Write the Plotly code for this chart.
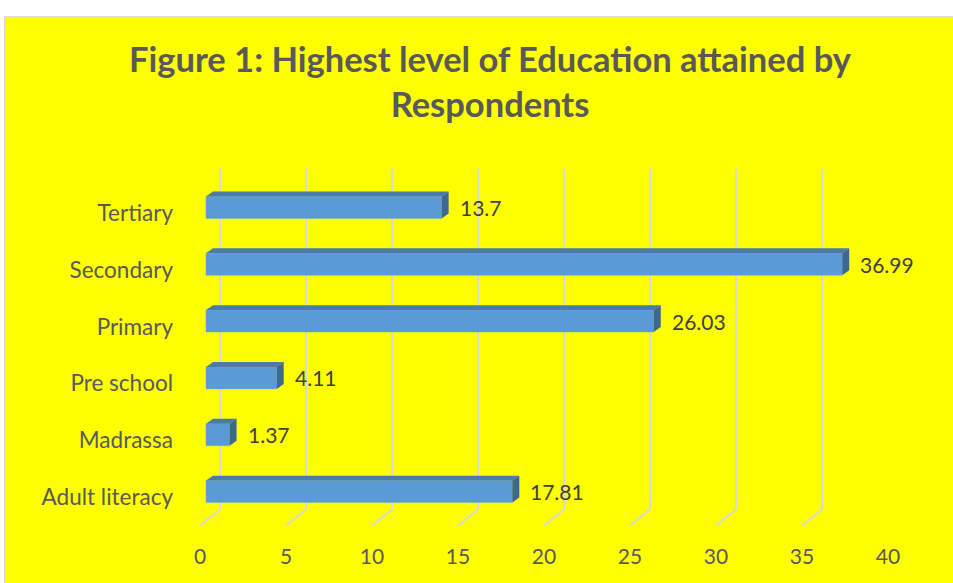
import plotly.graph_objects as go

# ---- data ----
categories = ["Adult literacy", "Madrassa", "Pre school", "Primary", "Secondary", "Tertiary"]
values = [17.81, 1.37, 4.11, 26.03, 36.99, 13.7]
labels = ["17.81", "1.37", "4.11", "26.03", "36.99", "13.7"]
x_ticks = [0, 5, 10, 15, 20, 25, 30, 35, 40]
title_text = "Figure 1: Highest level of Education attained by<br>Respondents"

# ---- style ----
W, H = 953, 583
ML, MR, MT, MB = 200, 65, 178.5, 62.5
PX_PER_UNIT = (W - ML - MR) / 40.0
CAT_PX = (H - MT - MB) / len(categories)
FONT = "Lato"
GREY = "#595959"
FRONT, TOP, SIDE = "#5B9BD5", "#4A7BAB", "#3D6893"
BAR_W = 0.386
DX = 7 / PX_PER_UNIT          # depth offset (x units)
DY = 5 / CAT_PX               # depth offset (category units)
BAR_SHIFT = 6 / PX_PER_UNIT   # bars sit slightly behind the front floor
BACK_SHIFT = 20 / PX_PER_UNIT # back wall offset
ypos = list(range(len(categories)))

fig = go.Figure()

# front faces
fig.add_trace(go.Bar(
    x=values, y=ypos, orientation="h", width=BAR_W,
    marker=dict(color=FRONT, line=dict(color="#6FA8DC", width=0.5)),
    xaxis="x2", yaxis="y", hoverinfo="x+y", showlegend=False,
))

# top and side faces
tx, ty, sx, sy = [], [], [], []
for v, y in zip(values, ypos):
    t = y + BAR_W / 2
    b = y - BAR_W / 2
    tx += [0, v, v + DX, DX, 0, None]
    ty += [t, t, t + DY, t + DY, t, None]
    sx += [v, v + DX, v + DX, v, v, None]
    sy += [b, b + DY, t + DY, t, b, None]
fig.add_trace(go.Scatter(x=tx, y=ty, fill="toself", fillcolor=TOP, mode="lines",
                         line=dict(width=0, color=TOP), xaxis="x2", yaxis="y",
                         hoverinfo="skip", showlegend=False))
fig.add_trace(go.Scatter(x=sx, y=sy, fill="toself", fillcolor=SIDE, mode="lines",
                         line=dict(width=0, color=SIDE), xaxis="x2", yaxis="y",
                         hoverinfo="skip", showlegend=False))

# data labels
for v, y, lab in zip(values, ypos, labels):
    fig.add_annotation(x=v, y=y, xref="x2", yref="y", text=lab, showarrow=False,
                       xanchor="left", yanchor="middle", xshift=16,
                       font=dict(family=FONT, size=21, color="#404040"))

# 3D gridlines (back wall + floor)
def py2paper(py):
    return (H - MB - py) / (H - MT - MB)

shapes = []
y_top, y_back, y_front = py2paper(168), py2paper(510), py2paper(526)
for v in x_ticks:
    shapes.append(dict(type="line", xref="x", yref="paper", x0=v + BACK_SHIFT, x1=v + BACK_SHIFT,
                       y0=y_top, y1=y_back, line=dict(color="#D9D9D9", width=2), layer="below"))
    shapes.append(dict(type="line", xref="x", yref="paper", x0=v + BACK_SHIFT, x1=v,
                       y0=y_back, y1=y_front, line=dict(color="#D9D9D9", width=2), layer="below"))

# page frame: white strip on top/left, light border
def pxx(px):
    return (px - ML) / (W - ML - MR)
shapes.append(dict(type="rect", xref="paper", yref="paper", x0=pxx(-5), x1=pxx(W + 5),
                   y0=py2paper(15.5), y1=py2paper(-5), fillcolor="white", line=dict(width=0), layer="below"))
shapes.append(dict(type="rect", xref="paper", yref="paper", x0=pxx(-5), x1=pxx(4.5),
                   y0=py2paper(H + 5), y1=py2paper(-5), fillcolor="white", line=dict(width=0), layer="below"))
shapes.append(dict(type="line", xref="paper", yref="paper", x0=pxx(4.5), x1=pxx(W + 5),
                   y0=py2paper(15.5), y1=py2paper(15.5), line=dict(color="#D9D9D9", width=1), layer="below"))
shapes.append(dict(type="line", xref="paper", yref="paper", x0=pxx(4.5), x1=pxx(4.5),
                   y0=py2paper(15.5), y1=py2paper(H + 5), line=dict(color="#D9D9D9", width=1), layer="below"))

fig.update_layout(
    width=W, height=H,
    margin=dict(l=ML, r=MR, t=MT, b=MB, pad=0),
    paper_bgcolor="#FFFF00", plot_bgcolor="rgba(0,0,0,0)",
    title=dict(text=title_text, x=490 / W, xanchor="center", y=1 - 72 / H, yanchor="middle",
               font=dict(family=FONT, size=34.5, color=GREY, weight="bold")),
    xaxis=dict(range=[0, 40], tickvals=x_ticks, showgrid=False, zeroline=False, showline=False,
               ticks="", ticklabelstandoff=22, tickfont=dict(family=FONT, size=21, color=GREY),
               fixedrange=True),
    xaxis2=dict(range=[-BAR_SHIFT, 40 - BAR_SHIFT], overlaying="x", visible=False, fixedrange=True),
    yaxis=dict(range=[-0.5, len(categories) - 0.5], tickvals=[p - 0.1 for p in ypos], ticktext=categories,
               showgrid=False, zeroline=False, showline=False, ticks="", ticklabelstandoff=26,
               tickfont=dict(family=FONT, size=22.5, color=GREY), fixedrange=True),
    shapes=shapes,
    showlegend=False,
)

fig.write_html("out.html")
